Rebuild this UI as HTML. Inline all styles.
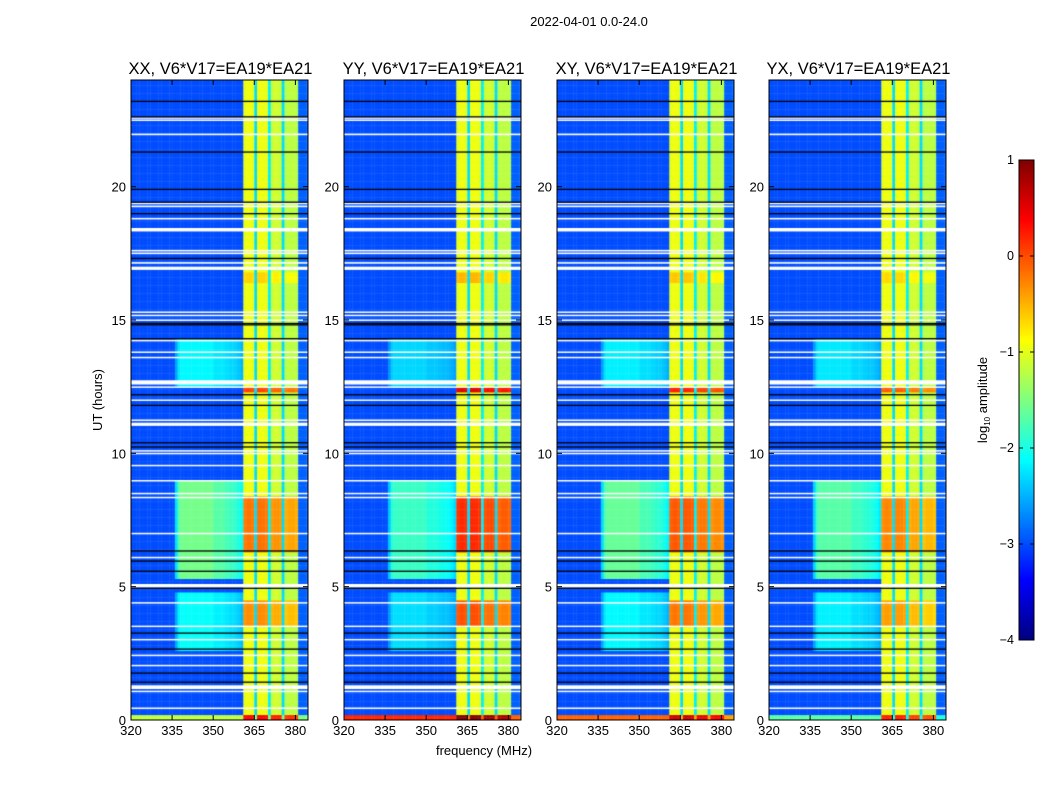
<!DOCTYPE html>
<html><head><meta charset="utf-8">
<style>
body{margin:0;background:#fff;}
#root{position:relative;width:1050px;height:800px;background:#fff;font-family:"Liberation Sans",sans-serif;overflow:hidden;}
canvas{position:absolute;}
svg{position:absolute;left:0;top:0;}
</style></head>
<body>
<div id="root">
<canvas id="c0" width="177" height="640" style="left:131px;top:80px"></canvas>
<canvas id="c1" width="177" height="640" style="left:344px;top:80px"></canvas>
<canvas id="c2" width="177" height="640" style="left:557px;top:80px"></canvas>
<canvas id="c3" width="177" height="640" style="left:769px;top:80px"></canvas>
<canvas id="cb" width="15" height="480" style="left:1019px;top:160px"></canvas>
<svg id="ov" width="1050" height="800"></svg>
</div>
<script>
// ---- data ----
const panelNames = ["XX, V6*V17=EA19*EA21","YY, V6*V17=EA19*EA21","XY, V6*V17=EA19*EA21","YX, V6*V17=EA19*EA21"];
// base log amplitude per 1 MHz column (320..384)
const freqBase = [
-3,-3,-3,-3,-3,-3,-3,-3,-3,-3,-3,-3,-3,-3,-3,-3,-3,-3,-3,-3,
-3,-3,-3,-3,-3,-3,-3,-3,-3,-3,-3,-3,-3,-3,-3,-3,-3,-3,-3,-3,-3,
-1.0,-0.95,-0.95,-1.0,-2.3,-0.95,-0.95,-0.95,-1.0,-2.2,-1.15,-1.1,-1.1,-1.15,-2.3,-1.25,-1.2,-1.2,-1.2,-1.25,
-2.9,-2.9,-2.9,-2.9];
const bandProf = [
0,0,0,0,0,0,0,0,0,0,0,0,0,0,0,0,0,0,0,0,
0,0,0,0,0,0,0,0,0,0,0,0,0,0,0,0,0,0,0,0,0,
1,1,1,1,0,1,1,1,1,0,1,1,1,1,0,1,1,1,1,1,
0,0,0,0];
const emisProf = [
0,0,0,0,0,0,0,0,0,0,0,0,0,0,0,0,0.5,0.9,1,1,
1,1,1,1,1,1,1,1,1,1,0.9,0.9,0.9,0.9,0.85,0.85,0.8,0.8,0.75,0.7,0.6,
0,0,0,0,0,0,0,0,0,0,0,0,0,0,0,0,0,0,0,0,
0,0,0,0];
// emission segments (hours) and amplitude
const emisStart = [2.6, 5.3, 12.5];
const emisEnd   = [4.8, 9.0, 14.3];
const emisAmp   = [0.9, 1.45, 0.85];
// in-band bright segments
const bandStart = [0.0, 3.5, 6.3, 12.3, 16.4];
const bandEnd   = [0.25, 4.5, 8.4, 12.55, 16.8];
const bandAmp   = [1.6, 0.75, 0.9, 1.2, 0.35];
const emisScale = [1.0, 0.8, 0.95, 0.9];
const bandScale = [0.85, 1.25, 1.0, 0.75];
// bottom row (0-0.25h) out-of-band values per panel
const bottomOut = [-1.2, 0.2, -0.1, -1.7];
// flagged rows (hours) : white gaps [start,end], black lines
const whiteStart = [22.47,22.55,21.93,19.34,19.23,18.77,18.32,17.57,17.47,17.11,16.88,15.27,15.15,14.97,14.2,13.77,13.57,12.58,12.46,11.97,11.22,11.03,10.07,9.97,9.52,8.95,8.47,8.32,6.97,6.07,4.97,4.37,3.49,2.99,2.4,2.02,1.05,1.16,0.42];
const whiteEnd   = [22.52,22.6,21.99,19.4,19.29,18.83,18.45,17.63,17.53,17.17,17.0,15.32,15.2,15.02,14.26,13.82,13.62,12.74,12.51,12.02,11.27,11.15,10.12,10.02,9.57,9.0,8.52,8.37,7.02,6.12,5.1,4.42,3.54,3.04,2.45,2.07,1.1,1.3,0.47];
const blackRows = [23.2,22.62,21.3,19.9,19.42,18.99,17.31,14.82,14.87,14.3,12.2,11.8,10.4,10.24,6.34,5.96,5.58,4.94,3.26,2.66,1.76,1.42];
const xTicks = [320,335,350,365,380];
const xTickLabels = ["320","335","350","365","380"];
const yTicks = [0,5,10,15,20];
const yTickLabels = ["0","5","10","15","20"];
const cbTicks = [1,0,-1,-2,-3,-4];
const cbTickLabels = ["1","0","\u22121","\u22122","\u22123","\u22124"];

// ---- scales ----
const PW=177, PH=640, F0=320, F1=384.6, T0=0, T1=24;
const panelX=[131,344,557,769], panelY=80;
const xs = f => (f-F0)/(F1-F0)*PW;
const ys = t => PH - (t-T0)/(T1-T0)*PH;
const VMIN=-4, VMAX=1;
function jet(v){
  let x=(v-VMIN)/(VMAX-VMIN); x=Math.max(0,Math.min(1,x));
  const c=a=>Math.round(255*Math.max(0,Math.min(1,a)));
  return `rgb(${c(1.5-Math.abs(4*x-3))},${c(1.5-Math.abs(4*x-2))},${c(1.5-Math.abs(4*x-1))})`;
}
const DT=0.1, NROWS=240;
for(let p=0;p<4;p++){
  const ctx=document.getElementById('c'+p).getContext('2d');
  for(let r=0;r<NROWS;r++){
    const t=(r+0.5)*DT;
    for(let c=0;c<freqBase.length;c++){
      let v=freqBase[c];
      for(let k=0;k<emisStart.length;k++) if(t>=emisStart[k]&&t<emisEnd[k]) v+=emisProf[c]*emisAmp[k]*emisScale[p];
      for(let k=0;k<bandStart.length;k++) if(t>=bandStart[k]&&t<bandEnd[k]) v+=bandProf[c]*bandAmp[k]*bandScale[p];
      if(t<0.25 && bandProf[c]===0) v = c<41 ? bottomOut[p] : Math.max(v,bottomOut[p]-0.3);
      const x0=xs(F0+c), x1=xs(F0+c+1), y0=ys(r*DT+DT), y1=ys(r*DT);
      ctx.fillStyle=jet(v);
      ctx.fillRect(x0,y0,x1-x0+0.4,y1-y0+0.4);
    }
  }
  ctx.fillStyle="#fff";
  for(let k=0;k<whiteStart.length;k++){
    const a=ys(whiteEnd[k]), b=ys(whiteStart[k]);
    ctx.fillRect(0,a,PW,Math.max(1.5,b-a));
  }
  ctx.fillStyle="#000";
  for(let k=0;k<blackRows.length;k++) ctx.fillRect(0,ys(blackRows[k])-0.6,PW,1.3);
}
// colorbar
{
  const ctx=document.getElementById('cb').getContext('2d');
  for(let y=0;y<480;y++){ ctx.fillStyle=jet(VMAX-(y+0.5)/480*(VMAX-VMIN)); ctx.fillRect(0,y,15,1); }
}
// ---- overlay ----
const NS="http://www.w3.org/2000/svg";
const ov=document.getElementById('ov');
function el(tag,attrs,txt){const e=document.createElementNS(NS,tag);for(const k in attrs)e.setAttribute(k,attrs[k]);if(txt!==undefined)e.textContent=txt;ov.appendChild(e);return e;}
let e;
e=el('text',{x:589,y:26,'text-anchor':'middle','font-size':13,fill:'#000'},'2022-04-01 0.0-24.0');


for(let p=0;p<4;p++){
  const X=panelX[p], Y=panelY;
  e=el('text',{x:X+PW/2+1,y:74,'text-anchor':'middle','font-size':16.5,fill:'#000'},panelNames[p]);
  
  
  e=el('rect',{x:X,y:Y,width:PW,height:PH,fill:'none',stroke:'#000','stroke-width':1});
  
  
  xTicks.forEach((f,i)=>{
    const x=X+xs(f);
    el('line',{x1:x,y1:Y+PH,x2:x,y2:Y+PH-5,stroke:'#000'});
    el('line',{x1:x,y1:Y,x2:x,y2:Y+5,stroke:'#000'});
    e=el('text',{x:x,y:Y+PH+15,'text-anchor':'middle','font-size':13,fill:'#000'},xTickLabels[i]);
    
    
  });
  yTicks.forEach((t,i)=>{
    const y=Y+ys(t);
    el('line',{x1:X,y1:y,x2:X+5,y2:y,stroke:'#000'});
    el('line',{x1:X+PW,y1:y,x2:X+PW-5,y2:y,stroke:'#000'});
    e=el('text',{x:X-5,y:y+5,'text-anchor':'end','font-size':13,fill:'#000'},yTickLabels[i]);
    
    
  });
}
e=el('text',{x:484,y:755,'text-anchor':'middle','font-size':13,fill:'#000'},'frequency (MHz)');


e=el('text',{x:0,y:0,'text-anchor':'middle','font-size':13,fill:'#000',transform:'translate(102,400) rotate(-90)'},'UT (hours)');


el('rect',{x:1019,y:160,width:15,height:480,fill:'none',stroke:'#000'});
cbTicks.forEach((v,i)=>{
  const y=160+(VMAX-v)/(VMAX-VMIN)*480;
  el('line',{x1:1019,y1:y,x2:1023,y2:y,stroke:'#000'});
  el('line',{x1:1034,y1:y,x2:1030,y2:y,stroke:'#000'});
  e=el('text',{x:1014,y:y+4,'text-anchor':'end','font-size':12.5,fill:'#000'},cbTickLabels[i]);
  
  
});
e=el('text',{x:0,y:0,'text-anchor':'middle','font-size':13,fill:'#000',transform:'translate(987,400) rotate(-90)'});


const t1=document.createElementNS(NS,'tspan');t1.textContent='log';e.appendChild(t1);
const t2=document.createElementNS(NS,'tspan');t2.setAttribute('font-size',8);t2.setAttribute('dy',3);t2.textContent='10';e.appendChild(t2);
const t3=document.createElementNS(NS,'tspan');t3.setAttribute('dy',-3);t3.textContent=' amplitude';e.appendChild(t3);
</script>
</body></html>
